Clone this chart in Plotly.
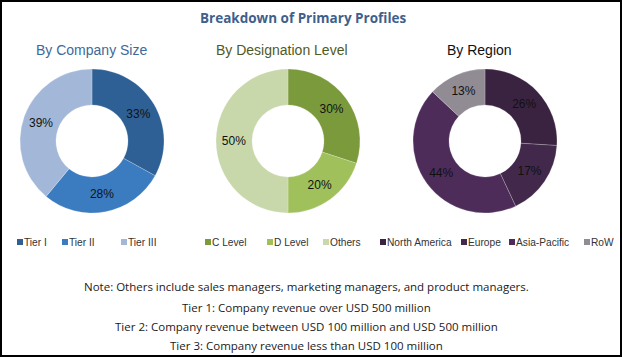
import plotly.graph_objects as go

W, H = 622, 357

# ---- data ----
size_labels = ["Tier I", "Tier II", "Tier III"]
size_values = [33, 28, 39]
size_colors = ["#2e6096", "#3b7cc1", "#a3b8d9"]

desig_labels = ["C Level", "D Level", "Others"]
desig_values = [30, 20, 50]
desig_colors = ["#7b9a3c", "#a0c05b", "#c8d8ab"]

region_labels = ["North America", "Europe", "Asia-Pacific", "RoW"]
region_values = [26, 17, 44, 13]
region_colors = ["#3a2340", "#42284b", "#4d2c5a", "#918c94"]

title_text = "Breakdown of Primary Profiles"
subtitles = ["By Company Size", "By Designation Level", "By Region"]
subtitle_colors = ["#3d6a9b", "#4f5a1f", "#111111"]
notes = [
    "Note: Others include sales managers, marketing managers, and product managers.",
    "Tier 1: Company revenue over USD 500 million",
    "Tier 2: Company revenue between USD 100 million and USD 500 million",
    "Tier 3: Company revenue less than USD 100 million",
]


def px(x):
    return x / W


def py(y):
    return 1 - y / H


fig = go.Figure()

# donut layout (pixel centres / radius)
centres = [(92, 141), (288, 141), (485, 141)]
R = 72
series = [
    (size_labels, size_values, size_colors),
    (desig_labels, desig_values, desig_colors),
    (region_labels, region_values, region_colors),
]
for (labels, values, colors), (cx, cy) in zip(series, centres):
    fig.add_trace(go.Pie(
        labels=labels, values=values,
        marker=dict(colors=colors, line=dict(color="rgba(255,255,255,0.35)", width=0.6)),
        hole=0.5, sort=False, direction="clockwise", rotation=0,
        texttemplate="%{value}%", textposition="inside",
        insidetextorientation="horizontal",
        textfont=dict(family="Liberation Sans, Arial", size=12, color="#111111"),
        domain=dict(x=[px(cx - R), px(cx + R)], y=[py(cy + R), py(cy - R)]),
        showlegend=False, hoverinfo="label+percent",
    ))

annotations = []
shapes = []

# title
annotations.append(dict(
    text="<b>" + title_text + "</b>", x=px(303), y=py(18), xref="paper", yref="paper",
    showarrow=False, xanchor="center", yanchor="middle",
    font=dict(family="Open Sans, Noto Sans", size=13.5, color="#3f5f8c")))

# subtitles
sub_x = [91, 282, 480]
for t, c, x in zip(subtitles, subtitle_colors, sub_x):
    annotations.append(dict(
        text=t, x=px(x), y=py(50), xref="paper", yref="paper", showarrow=False,
        xanchor="center", yanchor="middle",
        font=dict(family="Liberation Sans Narrow, Arial Narrow, Liberation Sans", size=14, color=c)))

# manual legends
legend_x = [
    [17, 62, 121],
    [205, 267, 323],
    [380, 461, 509, 584],
]
legend_y = 242
for (labels, values, colors), xs in zip(series, legend_x):
    for lab, col, x in zip(labels, colors, xs):
        shapes.append(dict(type="rect", xref="paper", yref="paper",
                           x0=px(x), x1=px(x + 6), y0=py(legend_y + 3), y1=py(legend_y - 3),
                           fillcolor=col, line=dict(width=0)))
        annotations.append(dict(
            text=lab, x=px(x + 6), y=py(legend_y), xref="paper", yref="paper",
            showarrow=False, xanchor="left", yanchor="middle", borderpad=0,
            font=dict(family="Liberation Sans, Arial", size=10.2, color="#333333")))

# notes
note_y = [286, 307, 326, 345]
for t, y in zip(notes, note_y):
    annotations.append(dict(
        text=t, x=px(306), y=py(y), xref="paper", yref="paper", showarrow=False,
        xanchor="center", yanchor="middle",
        font=dict(family="Open Sans, Noto Sans", size=11.5, color="#1a1a1a")))

# outer border
shapes.append(dict(type="rect", xref="paper", yref="paper", x0=0, x1=1, y0=0, y1=1,
                   line=dict(color="#000000", width=4), fillcolor="rgba(0,0,0,0)"))

fig.update_layout(
    width=W, height=H, autosize=False,
    margin=dict(l=0, r=0, t=0, b=0),
    paper_bgcolor="white", plot_bgcolor="white",
    annotations=annotations, shapes=shapes,
)

fig.write_html(
    "out.html",
    config={"displayModeBar": False},
    post_script="document.body.style.margin='0';document.body.style.padding='0';",
)
